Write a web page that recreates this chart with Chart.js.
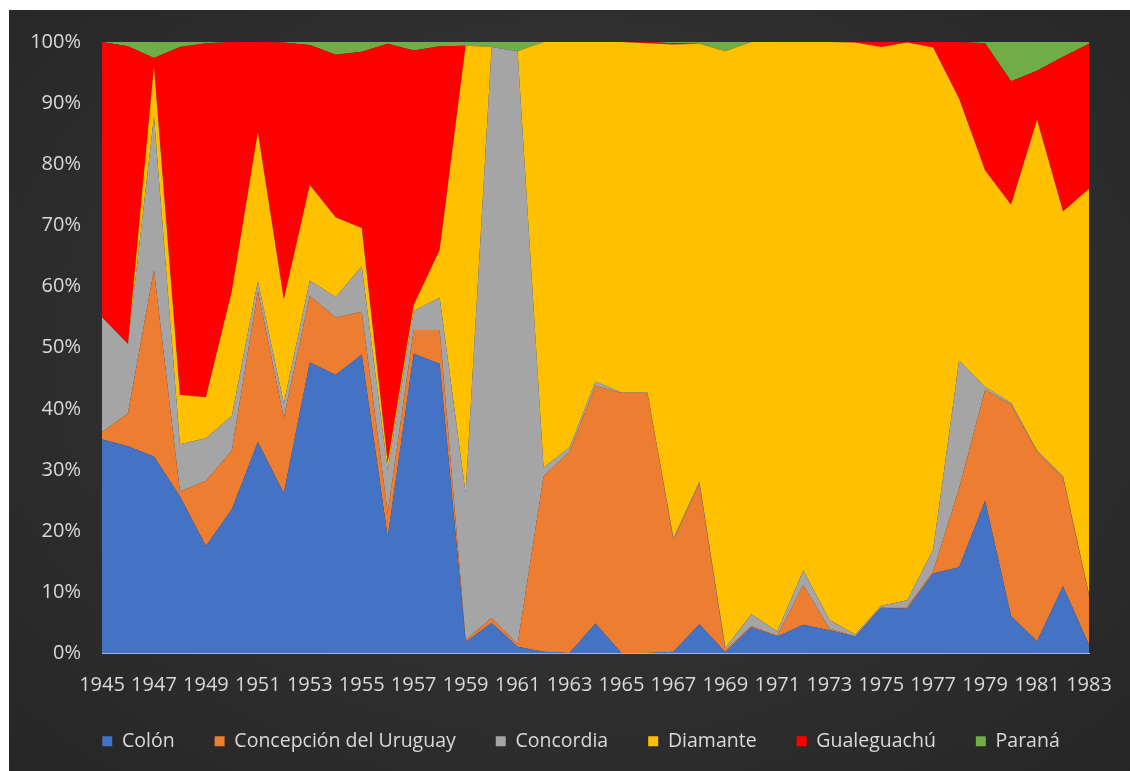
<!DOCTYPE html>
<html>
<head>
<meta charset="utf-8">
<script src="https://cdn.jsdelivr.net/npm/chart.js@4.4.1/dist/chart.umd.min.js"></script>
<style>
  html, body { margin: 0; padding: 0; background: #ffffff; }
  #wrap {
    position: absolute; left: 9px; top: 10px; width: 1121px; height: 761px;
    background: radial-gradient(ellipse at 50% 45%, #3b3b3b 0%, #2e2e2e 60%, #262626 100%);
  }
  canvas { display: block; }
</style>
</head>
<body>
<div id="wrap"><canvas id="chart" width="1121" height="761"></canvas></div>
<script>
// share of each department per year, in percent
const years = ['1945', '1946', '1947', '1948', '1949', '1950', '1951', '1952', '1953', '1954',
  '1955', '1956', '1957', '1958', '1959', '1960', '1961', '1962', '1963', '1964',
  '1965', '1966', '1967', '1968', '1969', '1970', '1971', '1972', '1973', '1974',
  '1975', '1976', '1977', '1978', '1979', '1980', '1981', '1982', '1983'];

const colon = [35.0, 33.9, 32.2, 25.7, 17.6, 23.6, 34.6, 26.2, 47.6, 45.6,
  48.9, 19.0, 49.0, 47.4, 1.9, 5.0, 1.1, 0.3, 0.1, 4.9,
  0.1, 0.1, 0.3, 4.8, 0.2, 4.3, 2.8, 4.7, 3.8, 2.8,
  7.5, 7.3, 13.1, 14.1, 25.0, 6.1, 2.0, 11.0, 1.4];

const concepcion = [1.2, 5.4, 30.5, 0.8, 10.6, 9.6, 24.7, 12.4, 10.9, 9.3,
  7.0, 4.0, 3.9, 5.5, 0.3, 0.8, 0.4, 28.7, 32.9, 38.9,
  42.5, 42.5, 18.3, 23.0, 0.3, 0.2, 0.1, 6.5, 0.3, 0.0,
  0.1, 0.3, 0.3, 12.9, 18.1, 34.6, 31.0, 17.8, 8.1];

const concordia = [18.8, 11.3, 25.1, 7.7, 7.0, 5.7, 1.6, 2.3, 2.5, 3.4,
  7.4, 7.0, 3.1, 5.3, 24.0, 93.4, 97.0, 1.4, 0.7, 0.7,
  0.1, 0.1, 0.3, 0.3, 0.4, 1.9, 0.7, 2.4, 1.4, 0.3,
  0.2, 1.1, 3.6, 20.9, 0.5, 0.3, 0.2, 0.2, 0.2];

const diamante = [0.0, 0.0, 8.2, 8.1, 6.7, 20.4, 24.4, 17.0, 15.6, 13.0,
  6.3, 1.2, 1.0, 7.8, 73.2, 0.0, 0.0, 69.6, 66.3, 55.5,
  57.3, 57.1, 80.7, 71.6, 97.6, 93.6, 96.4, 86.4, 94.5, 96.8,
  91.4, 91.2, 82.1, 42.8, 35.4, 32.4, 54.1, 43.3, 66.3];

const gualeguachu = [45.0, 48.7, 1.4, 56.9, 57.9, 40.7, 14.7, 42.0, 22.9, 26.6,
  28.8, 68.5, 41.6, 33.3, 0.0, 0.0, 0.0, 0.0, 0.0, 0.0,
  0.0, 0.2, 0.2, 0.0, 0.0, 0.0, 0.0, 0.0, 0.0, 0.1,
  0.8, 0.1, 0.9, 9.3, 20.8, 20.2, 8.0, 25.3, 23.7];

const parana = [0.0, 0.7, 2.6, 0.8, 0.2, 0.0, 0.0, 0.1, 0.5, 2.1,
  1.6, 0.3, 1.4, 0.7, 0.6, 0.8, 1.5, 0.0, 0.0, 0.0,
  0.0, 0.0, 0.2, 0.3, 1.5, 0.0, 0.0, 0.0, 0.0, 0.0,
  0.0, 0.0, 0.0, 0.0, 0.2, 6.4, 4.7, 2.4, 0.3];

const yTicks = [0, 10, 20, 30, 40, 50, 60, 70, 80, 90, 100];

const series = [
  { label: 'Colón', data: colon, color: '#4472c4' },
  { label: 'Concepción del Uruguay', data: concepcion, color: '#ed7d31' },
  { label: 'Concordia', data: concordia, color: '#a5a5a5' },
  { label: 'Diamante', data: diamante, color: '#ffc000' },
  { label: 'Gualeguachú', data: gualeguachu, color: '#ff0000' },
  { label: 'Paraná', data: parana, color: '#70ad47' }
];

// 100% stacked: scale every year to a total of 100
const totals = years.map((y, i) => series.reduce((s, d) => s + d.data[i], 0));
const toPercent = arr => arr.map((v, i) => v / totals[i] * 100);

const textColor = '#d9d9d9';
const font = 'Open Sans';

const datasets = series.map((s, i) => ({
  label: s.label,
  data: toPercent(s.data),
  backgroundColor: s.color,
  borderColor: s.color,
  borderWidth: 0,
  pointRadius: 0,
  tension: 0,
  fill: i === 0 ? 'origin' : '-1'
}));

new Chart(document.getElementById('chart'), {
  type: 'line',
  data: { labels: years, datasets: datasets },
  options: {
    responsive: false,
    animation: false,
    devicePixelRatio: 1,
    // left padding + narrower y axis keep the plot edge while centring the legend
    layout: { padding: { top: 32, right: 0, bottom: 10, left: 23 } },
    plugins: {
      tooltip: { enabled: false },
      legend: {
        position: 'bottom',
        labels: {
          boxWidth: 10,
          boxHeight: 10,
          padding: 40,
          color: textColor,
          font: { family: font, size: 19.5 }
        }
      }
    },
    scales: {
      x: {
        offset: false,
        grid: { display: false },
        border: { display: true, color: '#a9c1e8', width: 1 },
        ticks: {
          autoSkip: false,
          maxRotation: 0,
          padding: 12,
          color: textColor,
          font: { family: font, size: 20 },
          callback: function (value, index) {
            return index % 2 === 0 ? this.getLabelForValue(value) : '';
          }
        },
        afterFit: scale => { scale.height = 38; }
      },
      y: {
        stacked: true,
        min: 0,
        max: 100,
        grid: { display: false },
        border: { display: false },
        afterBuildTicks: scale => { scale.ticks = yTicks.map(v => ({ value: v })); },
        ticks: {
          padding: 13,
          color: textColor,
          font: { family: font, size: 20 },
          callback: v => v + '%'
        },
        afterFit: scale => { scale.width = 70; }
      },
      // empty axis on the right: only reserves the margin beside the plot
      spacer: {
        type: 'linear',
        position: 'right',
        grid: { display: false },
        border: { display: false },
        ticks: { display: false },
        afterFit: scale => { scale.width = 41; }
      }
    }
  }
});
</script>
</body>
</html>
